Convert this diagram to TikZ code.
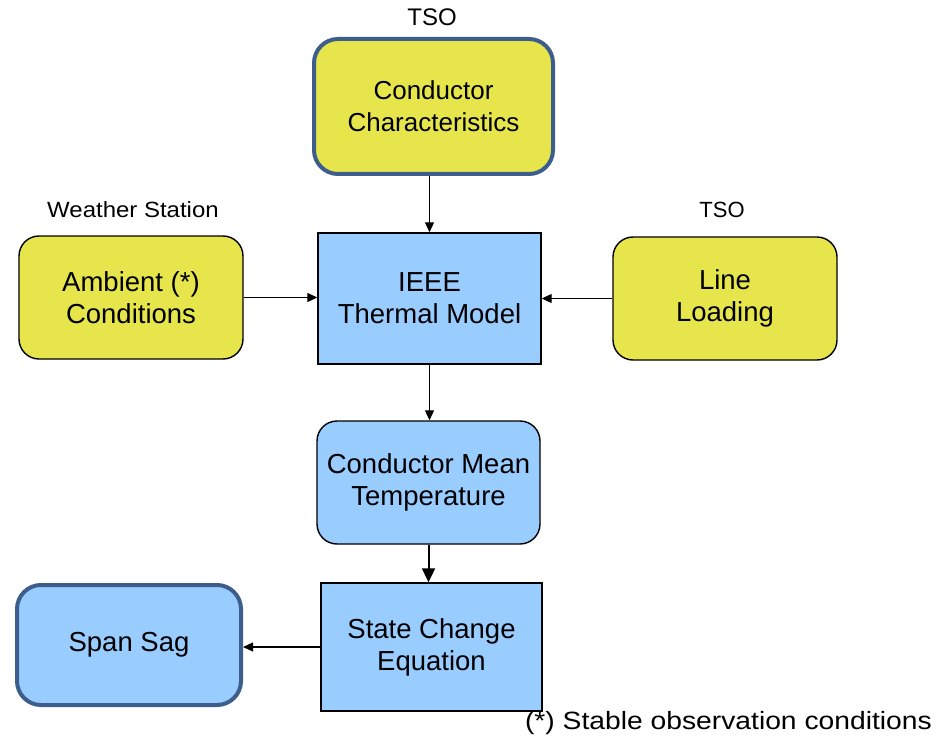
\documentclass[tikz,border=0pt]{standalone}
\usepackage{fontspec}
\setmainfont{Liberation Sans}
\usetikzlibrary{arrows.meta}
\definecolor{ylw}{HTML}{E6E64C}
\definecolor{lblue}{HTML}{99CCFF}
\definecolor{frame}{HTML}{3D5E8C}
\begin{document}
\begin{tikzpicture}[x=1pt,y=-1pt,
  box/.style={draw=black,line width=1.4pt,align=center,inner sep=0pt,
    font=\fontsize{27.5}{32}\selectfont},
  rbox/.style={box,rounded corners=20pt},
  thickbox/.style={box,draw=frame,line width=4pt,rounded corners=24pt},
  lbl/.style={font=\fontsize{22}{26}\selectfont,inner sep=0pt},
  arr/.style={-{Triangle[length=10pt,width=9pt]},line width=1.2pt},
  arrb/.style={-{Triangle[length=14pt,width=13pt]},line width=2pt}]
\useasboundingbox (0,0) rectangle (934,738);
\node[thickbox,fill=ylw,minimum width=239pt,minimum height=135pt,font=\fontsize{26}{32}\selectfont] (cc) at (433.5,106.5) {Conductor\\Characteristics};
\node[rbox,fill=ylw,minimum width=224pt,minimum height=123pt] (amb) at (131,297.5) {Ambient (*)\\Conditions};
\node[box,fill=lblue,minimum width=223pt,minimum height=131pt] (ieee) at (429.5,298.5) {IEEE\\Thermal Model};
\node[rbox,fill=ylw,minimum width=224pt,minimum height=123pt] (ll) at (725,298.5) {Line\\Loading};
\node[rbox,fill=lblue,minimum width=223pt,minimum height=123pt] (cmt) at (428.5,482.5) {Conductor Mean\\Temperature};
\node[box,fill=lblue,minimum width=221pt,minimum height=128pt] (sce) at (431.5,647) {State Change\\Equation};
\node[thickbox,fill=lblue,minimum width=224pt,minimum height=120pt] (ss) at (129,645) {Span Sag};
\node[lbl,font=\fontsize{24}{28}\selectfont] (tso1) at (432,17) {TSO};
\node[lbl] (ws) at (133,210) {\scalebox{1.09}[1]{Weather Station}};
\node[lbl] (tso2) at (722,210) {TSO};
\node[lbl,font=\fontsize{25}{28}\selectfont,anchor=east] (fn) at (932,723) {\scalebox{1.13}[1]{(*) Stable observation conditions}};
\draw[arr] (cc.south -| ieee.north) -- (ieee.north);
\draw[arr] (amb.east) -- (amb.east -| ieee.west);
\draw[arr] (ll.west) -- (ll.west -| ieee.east);
\draw[arr] (ieee.south) -- (ieee.south |- cmt.north);
\draw[arrb] (cmt.south) -- (cmt.south |- sce.north);
\draw[arr] (sce.west) -- (sce.west -| ss.east);
\end{tikzpicture}
\end{document}
